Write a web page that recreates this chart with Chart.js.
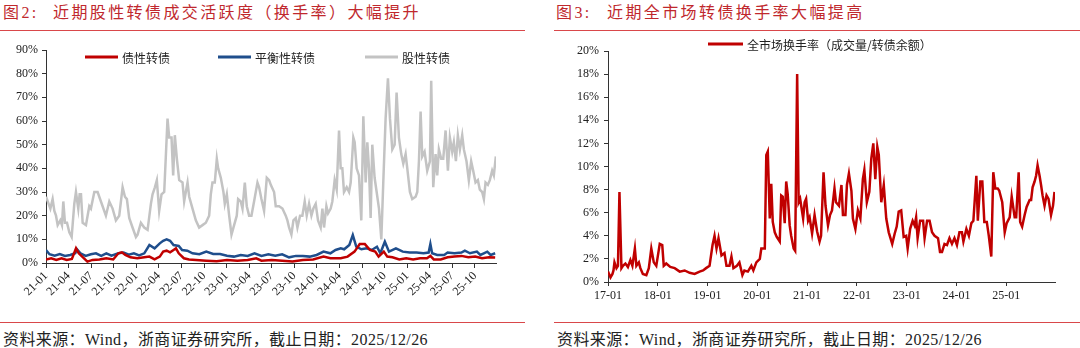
<!DOCTYPE html>
<html>
<head>
<meta charset="utf-8">
<script src="https://cdn.jsdelivr.net/npm/chart.js@4.4.1/dist/chart.umd.min.js"></script>
<style>
  body { margin: 0; width: 1080px; height: 348px; background: #fff; position: relative; overflow: hidden;
         font-family: "Liberation Serif", "Noto Sans CJK SC", serif; }
  .title { position: absolute; top: 3px; font-size: 16px; line-height: 20px; color: #c0282d; letter-spacing: 2.4px; white-space: nowrap; }
  .rule { position: absolute; height: 0; border-top: 1.5px solid #d9474a; }
  .src { position: absolute; top: 330px; font-size: 16px; line-height: 20px; color: #222; letter-spacing: 0.4px; white-space: nowrap; }
  canvas { position: absolute; }
</style>
</head>
<body>
<div class="title" style="left:3px">图2:</div>
<div class="title" style="left:53px">近期股性转债成交活跃度（换手率）大幅提升</div>
<div class="title" style="left:556px">图3:</div>
<div class="title" style="left:607px">近期全市场转债换手率大幅提高</div>
<div class="rule" style="left:0;width:525px;top:30px"></div>
<div class="rule" style="left:554px;width:526px;top:30px"></div>

<canvas id="turnover-style" width="525" height="270" style="left:0;top:35px"></canvas>
<canvas id="turnover-market" width="540" height="270" style="left:540px;top:35px"></canvas>

<div class="rule" style="left:0;width:525px;top:322px"></div>
<div class="rule" style="left:554px;width:526px;top:322px"></div>
<div class="src" style="left:3px">资料来源：Wind，浙商证券研究所，截止日期：2025/12/26</div>
<div class="src" style="left:557px">资料来源：Wind，浙商证券研究所，截止日期：2025/12/26</div>

<script>
// 图2 data: time in months since 2021-01, turnover in %
const quarterLabels = ['21-01','21-04','21-07','21-10','22-01','22-04','22-07','22-10','23-01','23-04',
  '23-07','23-10','24-01','24-04','24-07','24-10','25-01','25-04','25-07','25-10'];
const seriesNames = ['债性转债', '平衡性转债', '股性转债'];

const bondT = [0,0.69,1.37,2.06,2.75,3.44,3.99,4.35,4.81,5.5,6.18,7.1,8.02,8.93,9.62,10.08,10.54,11.22,12.14,13.06,
  13.74,14.43,15.12,15.57,16.03,16.49,16.95,17.27,17.64,18.32,19.01,19.93,21.3,22.68,24.05,25.42,26.8,27.94,28.63,30,
  31.38,32.75,34.13,35.5,36.88,37.79,39.17,40.08,41,41.69,42.37,43.06,43.75,44.2,44.89,45.35,46.04,46.95,47.87,48.79,
  49.7,50.62,51.08,51.53,52.45,53.37,54.28,55.2,56.12,57.03,57.95,58.87,59.69];
const bondV = [1.5,2.0,1.3,2.0,1.3,1.7,6.2,4.1,2.7,0.6,1.3,1.5,2.0,1.5,4.1,4.5,3.4,2.4,2.0,2.4,
  2.7,1.5,2.7,4.8,5.2,4.5,5.5,6.2,4.1,2.0,1.5,1.3,1.0,0.7,1.3,1.0,1.3,2.0,1.0,1.3,
  1.0,0.6,1.3,1.5,2.7,2.0,2.0,2.7,4.8,8.0,8.0,5.5,4.8,2.7,4.8,2.7,2.4,1.5,2.0,1.5,
  2.0,2.0,3.0,1.5,1.5,2.4,2.7,3.0,2.4,2.7,2.0,2.4,2.3];

const balT = [0,0.46,1.15,1.83,2.52,3.21,3.89,4.12,4.58,5.27,5.96,6.64,7.33,8.02,8.7,9.62,10.31,10.99,11.68,12.37,
  13.06,13.74,14.43,15.12,15.57,16.03,16.49,16.95,17.64,18.09,18.78,19.47,20.38,21.3,22.22,23.13,24.05,24.97,25.88,26.8,
  27.71,28.63,29.55,30.46,31.38,32.3,33.21,34.13,35.04,35.96,36.88,37.79,38.48,39.17,39.62,40.31,40.77,41.23,41.91,42.6,
  43.29,43.98,44.43,45.03,45.58,46.5,47.41,48.33,49.24,50.16,50.85,51.08,51.31,51.99,52.91,53.37,54.28,55.2,55.66,56.34,
  57.26,57.72,58.18,58.64,59.09,59.69];
const balV = [5.5,3.7,3.1,3.8,3.0,3.4,4.1,5.8,4.1,3.0,3.7,4.1,3.0,4.1,3.1,4.1,4.4,3.5,4.1,3.2,
  4.1,7.6,6.2,8.3,9.4,10.0,9.4,7.6,7.2,5.5,5.2,4.1,3.7,4.8,3.8,3.8,3.1,2.7,3.4,3.0,
  4.1,3.0,3.7,3.1,3.7,2.4,3.0,3.0,2.7,3.4,4.8,4.1,5.5,6.2,5.8,7.6,11.8,6.9,5.8,6.2,
  5.5,6.9,4.1,9.0,4.8,6.2,4.8,4.4,4.4,4.1,4.4,8.0,4.1,3.4,3.4,4.4,4.1,4.4,5.2,4.1,
  4.8,3.4,4.1,4.8,3.4,4.1];

const stockT = [0,0.58,0.88,1.11,1.33,1.55,1.9,2.12,2.3,2.52,2.79,3.1,3.41,3.76,3.98,4.29,4.47,4.65,4.87,5.31,
  5.75,5.97,6.42,6.86,7.3,7.96,8.41,8.85,9.29,9.73,10.18,10.49,10.75,11.06,11.5,11.95,12.17,12.61,13.05,13.5,
  13.94,14.16,14.47,14.73,15.04,15.35,15.71,16.15,16.37,16.68,16.9,17.12,17.39,17.7,18.14,18.36,18.58,18.81,19.03,19.47,
  19.91,20.35,20.8,21.24,21.68,21.9,22.12,22.43,22.7,22.88,23.23,23.58,23.76,24.03,24.34,24.65,25,25.35,25.53,25.88,
  26.11,26.42,26.68,26.99,27.3,27.65,28.1,28.32,28.63,28.98,29.34,29.65,29.87,30.31,30.53,30.97,31.42,31.86,32.08,32.3,
  32.61,32.88,33.19,33.41,33.76,34.07,34.38,34.65,34.96,35.27,35.53,35.84,36.15,36.5,36.73,36.95,37.26,37.48,37.83,38.05,
  38.36,38.63,38.94,39.16,39.38,39.6,39.96,40.27,40.49,40.84,41.02,41.28,41.59,41.9,42.17,42.48,42.7,42.92,43.14,43.36,
  43.67,43.94,44.25,44.56,44.82,45.13,45.44,45.71,46.02,46.33,46.59,46.9,47.21,47.48,47.79,48.01,48.36,48.67,49.12,49.34,
  49.56,49.78,50,50.31,50.66,51.02,51.19,51.46,51.77,51.99,52.21,52.52,52.79,53.1,53.41,53.67,53.98,54.2,54.47,54.73,
  55,55.31,55.53,55.88,56.19,56.5,56.77,57.08,57.39,57.65,57.96,58.19,58.41,58.72,58.98,59.29,59.51,59.78];
const stockV = [28,23,27,22,20,16,18,16,26,17,17,13,11,25,30,23,29,29,17,16,
  24,23,30,30,26,20,26,23,18,20,32,28,27,19,15,11,12,17,15,14,
  25,29,32,35,22,29,30,61,53,53,37,54,44,35,34,26,30,34,28,23,
  18,15,16,17,20,29,34,34,44,40,36,30,25,29,20,12,16,20,27,26,
  23,34,24,20,20,26,34,32,27,22,36,35,33,30,24,24,23,20,18,15,
  12,18,19,15,20,20,26,20,25,20,23,25,18,15,23,15,24,21,23,26,
  35,31,56,40,40,30,32,30,34,53,51,40,37,18,62,34,51,40,19,50,
  36,30,23,10,34,61,78,61,48,50,72,53,46,42,46,40,30,27,28,30,
  43,64,45,47,39,43,77,32,46,37,48,44,44,56,39,53,47,51,43,54,
  48,54,48,43,35,43,39,34,35,31,30,27,34,33,35,39,37,45];

// 图3 data: time in years since 2017-01, turnover in %
const yearLabels = ['17-01','18-01','19-01','20-01','21-01','22-01','23-01','24-01','25-01'];
const marketName = '全市场换手率（成交量/转债余额）';
const mktT = [0,0.05,0.09,0.11,0.13,0.17,0.2,0.23,0.27,0.3,0.35,0.4,0.45,0.49,0.54,0.57,0.62,0.65,0.7,0.77,
  0.82,0.87,0.92,0.97,1.04,1.09,1.12,1.17,1.25,1.34,1.44,1.54,1.64,1.74,1.84,1.91,1.97,2.04,2.1,2.14,
  2.18,2.22,2.28,2.34,2.38,2.44,2.48,2.52,2.59,2.64,2.7,2.74,2.81,2.88,2.92,2.98,3.05,3.08,3.15,3.18,
  3.21,3.25,3.28,3.31,3.35,3.39,3.45,3.48,3.51,3.55,3.58,3.61,3.65,3.68,3.73,3.76,3.8,3.83,3.86,3.92,
  3.95,3.98,4.02,4.05,4.1,4.15,4.2,4.25,4.28,4.33,4.37,4.42,4.46,4.5,4.55,4.58,4.64,4.69,4.72,4.77,
  4.8,4.84,4.89,4.92,4.97,5.02,5.07,5.12,5.15,5.2,5.25,5.29,5.33,5.37,5.41,5.44,5.49,5.54,5.59,5.64,
  5.71,5.76,5.8,5.84,5.89,5.94,5.99,6.02,6.07,6.12,6.16,6.19,6.22,6.27,6.33,6.36,6.41,6.46,6.51,6.56,
  6.63,6.67,6.71,6.76,6.81,6.86,6.91,6.96,7.01,7.06,7.11,7.14,7.2,7.25,7.3,7.34,7.4,7.43,7.48,7.52,
  7.56,7.61,7.65,7.7,7.74,7.78,7.83,7.86,7.92,7.97,8.01,8.07,8.11,8.17,8.2,8.25,8.28,8.32,8.37,8.41,
  8.47,8.5,8.53,8.57,8.6,8.63,8.67,8.7,8.73,8.77,8.81,8.85,8.9,8.94,8.97];
const mktV = [0.9,0.4,0.7,1.0,1.7,1.2,1.4,7.8,1.2,1.4,1.6,1.3,1.9,1.4,2.9,1.4,1.7,1.2,0.7,0.6,
  1.2,2.9,1.7,1.4,3.3,3.2,1.4,1.6,1.3,1.2,0.9,1.0,0.8,0.7,0.9,1.0,1.2,1.4,3.2,4.0,
  2.9,3.8,2.3,2.5,1.4,1.4,2.2,1.2,1.4,1.7,0.6,1.0,0.9,1.4,1.0,1.7,2.0,2.9,2.9,11.0,
  11.3,5.5,8.5,5.2,4.3,3.9,3.5,7.5,7.4,5.1,8.7,7.6,4.9,4.0,2.9,2.7,18.0,6.9,7.2,5.5,
  6.9,7.2,5.3,5.6,4.2,5.8,4.4,3.5,4.0,9.5,6.6,4.9,5.8,6.2,8.1,6.9,6.6,8.4,5.8,5.8,
  8.4,9.4,7.9,5.5,4.6,6.2,5.5,8.9,9.7,6.9,7.8,10.7,12.0,8.9,11.7,11.0,6.9,8.4,5.5,4.3,
  3.3,4.2,4.8,6.1,6.2,3.9,4.0,2.9,4.6,5.3,4.9,5.6,3.8,5.3,5.3,3.8,5.3,5.3,4.3,4.0,
  3.8,2.6,2.6,3.3,3.2,3.8,3.3,3.8,3.2,4.3,4.3,3.5,4.6,4.0,5.1,5.3,9.2,5.3,8.7,8.7,
  5.2,5.2,4.0,2.2,9.5,8.1,8.1,7.9,6.9,4.3,5.1,5.6,7.4,5.6,5.6,9.5,5.2,4.8,5.8,6.5,
  7.1,7.1,8.2,8.7,9.2,10.1,9.2,8.4,7.5,6.6,7.5,7.2,5.8,6.6,7.8];

function pts(t, v) { return t.map((x, i) => ({ x: x, y: v[i] })); }

// legend drawn inside the plot: a short line then the name
const lineLegend = {
  id: 'lineLegend',
  afterDraw(chart, args, opts) {
    const ctx = chart.ctx;
    ctx.save();
    ctx.font = opts.font;
    ctx.textBaseline = 'middle';
    chart.data.datasets.forEach((ds, i) => {
      const x = opts.x[i];
      ctx.strokeStyle = ds.borderColor;
      ctx.lineWidth = 3;
      ctx.beginPath();
      ctx.moveTo(x, opts.y);
      ctx.lineTo(x + opts.len, opts.y);
      ctx.stroke();
      ctx.fillStyle = '#222';
      ctx.fillText(ds.label, x + opts.len + 4, opts.y + 1);
    });
    ctx.restore();
  }
};

const tickFont = { family: 'Liberation Serif', size: 12 };
const axisColor = '#333';

function lineDs(label, data, color) {
  return { label: label, data: data, borderColor: color, borderWidth: 2.5, pointRadius: 0, tension: 0, fill: false };
}

// 图2 chart
new Chart(document.getElementById('turnover-style'), {
  type: 'line',
  data: {
    datasets: [
      lineDs(seriesNames[0], pts(bondT, bondV), '#c00000'),
      lineDs(seriesNames[1], pts(balT, balV), '#1f4e8c'),
      lineDs(seriesNames[2], pts(stockT, stockV), '#c3c3c3')
    ]
  },
  options: {
    responsive: false,
    animation: false,
    devicePixelRatio: 1,
    layout: { padding: { top: 15, right: 29, left: 0, bottom: 0 } },
    scales: {
      x: {
        type: 'linear', min: 0, max: 59.8,
        afterBuildTicks: s => { s.ticks = quarterLabels.map((_, i) => ({ value: i * 3 })); },
        afterFit: s => { s.height = 42; },
        ticks: { autoSkip: false, minRotation: 45, maxRotation: 45, padding: 1, font: tickFont, color: '#222',
                 callback: (v, i) => quarterLabels[i] },
        grid: { drawOnChartArea: false, drawTicks: true, tickLength: 5, color: axisColor },
        border: { color: axisColor, width: 1 }
      },
      y: {
        min: 0, max: 90,
        afterFit: s => { s.width = 46; },
        ticks: { stepSize: 10, padding: 4, font: tickFont, color: '#222', callback: v => v + '%' },
        grid: { drawOnChartArea: false, drawTicks: true, tickLength: 4, color: axisColor },
        border: { color: axisColor, width: 1 }
      }
    },
    plugins: {
      legend: { display: false },
      tooltip: { enabled: false },
      lineLegend: { x: [85, 218, 365], y: 22, len: 33, font: "12px 'Noto Sans CJK SC'" }
    }
  },
  plugins: [lineLegend]
});

// 图3 chart
new Chart(document.getElementById('turnover-market'), {
  type: 'line',
  data: {
    datasets: [lineDs(marketName, pts(mktT, mktV), '#c00000')]
  },
  options: {
    responsive: false,
    animation: false,
    devicePixelRatio: 1,
    layout: { padding: { top: 16, right: 25, left: 0, bottom: 0 } },
    scales: {
      x: {
        type: 'linear', min: 0, max: 8.98,
        afterBuildTicks: s => { s.ticks = yearLabels.map((_, i) => ({ value: i })); },
        afterFit: s => { s.height = 23; },
        ticks: { autoSkip: false, maxRotation: 0, padding: 3, font: tickFont, color: '#222',
                 callback: (v, i) => yearLabels[i] },
        grid: { drawOnChartArea: false, drawTicks: true, tickLength: 4, color: axisColor },
        border: { color: axisColor, width: 1 }
      },
      y: {
        min: 0, max: 20,
        afterFit: s => { s.width = 68; },
        ticks: { stepSize: 2, padding: 5, font: tickFont, color: '#222', callback: v => v + '%' },
        grid: { drawOnChartArea: false, drawTicks: true, tickLength: 4, color: axisColor },
        border: { color: axisColor, width: 1 }
      }
    },
    plugins: {
      legend: { display: false },
      tooltip: { enabled: false },
      lineLegend: { x: [168], y: 9, len: 35, font: "12px 'Noto Sans CJK SC'" }
    }
  },
  plugins: [lineLegend]
});
</script>
</body>
</html>
